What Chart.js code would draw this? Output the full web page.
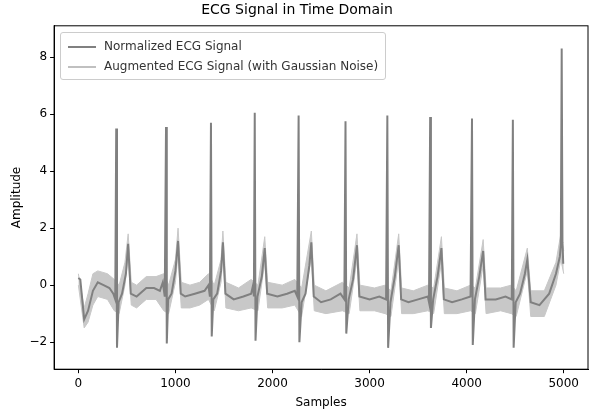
<!DOCTYPE html>
<html><head><meta charset="utf-8">
<script src="https://cdn.jsdelivr.net/npm/chart.js@4"></script>
<style>
body{margin:0;background:#fff;font-family:"DejaVu Sans",sans-serif}
#wrap{position:relative;width:591px;height:418px}
#legend{position:absolute;left:60px;top:32px;border:1px solid #ccc;border-radius:3px;background:rgba(255,255,255,0.85);padding:3px 7px;font-size:12px;color:#333;line-height:20px}
#legend span{display:inline-block;width:28px;height:2px;vertical-align:middle;margin-right:8px}
</style></head>
<body>
<div id="wrap"><canvas id="grafico" width="591" height="418"></canvas>
<div id="legend">
<div><span style="background:#808080"></span>Normalized ECG Signal</div>
<div><span style="background:#c0c0c0"></span>Augmented ECG Signal (with Gaussian Noise)</div>
</div></div>
<script>
// normalized signal breakpoints [sample, amplitude]
const normalized = [[0,0.25],[20,0.2],[60,-1.2],[100,-0.9],[150,-0.2],[200,0.1],[260,0.0],[320,-0.1],[360,-0.3],[380,-0.5],
[390,5.5],[398,-2.2],[415,-0.6],[450,-0.3],[490,0.4],[513,1.45],[540,-0.3],[600,-0.4],[700,-0.1],[780,-0.1],[840,-0.2],[870,0.1],[890,-0.4],
[903,5.55],[911,-2.05],[925,-0.5],[960,-0.3],[1000,0.5],[1027,1.55],[1055,-0.3],[1100,-0.4],[1200,-0.3],[1300,-0.2],[1340,0.0],[1355,-0.4],
[1366,5.7],[1374,-1.8],[1390,-0.5],[1430,-0.3],[1470,0.5],[1489,1.5],[1515,-0.3],[1600,-0.5],[1700,-0.4],[1780,-0.3],[1800,0.0],[1808,-0.4],
[1817,6.05],[1825,-1.95],[1845,-0.4],[1890,0.3],[1920,1.3],[1945,-0.3],[2050,-0.4],[2150,-0.3],[2230,-0.2],[2255,-0.4],
[2269,5.95],[2277,-2.0],[2300,-0.6],[2340,-0.3],[2380,0.7],[2400,1.5],[2425,-0.4],[2500,-0.6],[2600,-0.5],[2700,-0.3],[2740,-0.5],
[2752,5.75],[2760,-1.7],[2785,-0.5],[2830,0.2],[2870,1.4],[2895,-0.4],[3000,-0.5],[3100,-0.4],[3170,-0.5],
[3183,5.95],[3191,-2.2],[3215,-0.6],[3260,0.3],[3300,1.4],[3325,-0.5],[3400,-0.6],[3500,-0.5],[3600,-0.4],[3612,-0.6],
[3624,5.9],[3632,-1.5],[3655,-0.5],[3700,0.3],[3740,1.3],[3765,-0.5],[3850,-0.6],[3950,-0.5],[4040,-0.4],
[4055,5.85],[4063,-2.1],[4085,-0.5],[4130,0.3],[4170,1.2],[4195,-0.5],[4300,-0.5],[4400,-0.4],[4465,-0.5],
[4476,5.8],[4484,-2.2],[4505,-0.6],[4550,-0.3],[4600,0.4],[4625,0.9],[4660,-0.6],[4750,-0.7],[4850,-0.3],[4920,0.4],[4960,1.0],[4970,1.4],
[4979,8.3],[4987,1.5],[4995,0.75]];

// noise band of the augmented signal
const augmentedUpper = [[0,0.4],[60,-0.8],[100,-0.3],[150,0.4],[200,0.5],[300,0.4],[370,0.2],[420,0.0],[480,0.8],[513,1.8],[545,0.1],[600,0.0],[700,0.3],[800,0.3],[880,0.4],[930,0.0],[1000,0.9],[1027,2.0],[1060,0.1],[1150,0.0],[1250,0.1],[1340,0.4],[1400,0.0],[1470,0.9],[1489,1.9],[1520,0.1],[1650,-0.1],[1780,0.2],[1850,0.0],[1920,1.7],[1950,0.1],[2100,0.0],[2230,0.2],[2300,-0.1],[2400,1.9],[2430,0.0],[2550,-0.2],[2720,0.1],[2790,-0.1],[2870,1.8],[2900,0.0],[3050,-0.1],[3160,0.0],[3220,-0.2],[3300,1.8],[3330,-0.1],[3450,-0.2],[3600,0.0],[3660,-0.1],[3740,1.7],[3770,-0.1],[3900,-0.2],[4040,0.0],[4090,-0.1],[4170,1.6],[4200,-0.1],[4350,-0.1],[4460,0.0],[4510,-0.2],[4625,1.3],[4660,-0.2],[4800,-0.2],[4920,0.8],[4970,1.8],[5000,1.2]];
const augmentedLower = [[0,0.0],[60,-1.5],[100,-1.3],[150,-0.7],[200,-0.4],[300,-0.5],[370,-0.9],[420,-1.0],[480,0.0],[513,1.0],[545,-0.7],[600,-0.8],[700,-0.5],[800,-0.5],[880,-0.9],[930,-1.0],[1000,0.1],[1027,1.1],[1060,-0.8],[1150,-0.8],[1250,-0.7],[1340,-0.5],[1400,-0.9],[1470,0.1],[1489,1.1],[1520,-0.8],[1650,-0.9],[1780,-0.8],[1850,-0.9],[1920,0.8],[1950,-0.8],[2100,-0.8],[2230,-0.7],[2300,-1.1],[2400,1.0],[2430,-0.9],[2550,-1.0],[2720,-0.9],[2790,-1.0],[2870,0.9],[2900,-0.9],[3050,-0.9],[3160,-1.0],[3220,-1.1],[3300,0.9],[3330,-1.0],[3450,-1.0],[3600,-0.9],[3660,-1.0],[3740,0.8],[3770,-1.0],[3900,-1.0],[4040,-0.9],[4090,-1.0],[4170,0.7],[4200,-1.0],[4350,-0.9],[4460,-1.0],[4510,-1.1],[4625,0.5],[4660,-1.1],[4800,-1.1],[4920,0.0],[4970,0.9],[5000,0.4]];

const xTicks = [0,1000,2000,3000,4000,5000];
const yTicks = [-2,0,2,4,6,8];

const pts = a => a.map(p => ({x:p[0], y:p[1]}));
const font = {family:'DejaVu Sans', size:12};
const minus = v => String(v).replace('-', '\u2212');

new Chart(document.getElementById('grafico'), {
  type: 'line',
  data: {
    datasets: [
      {data: pts(normalized), borderColor:'#808080', borderWidth:2, pointRadius:0, order:0},
      {data: pts(augmentedUpper), borderColor:'#c8c8c8', borderWidth:1, pointRadius:0, fill:false, order:1},
      {data: pts(augmentedLower), borderColor:'#c8c8c8', borderWidth:1, pointRadius:0, fill:'-1', backgroundColor:'#c8c8c8', order:1}
    ]
  },
  options: {
    responsive:false, animation:false,
    layout:{padding:{left:6, right:3, bottom:4}},
    plugins:{
      legend:{display:false}, tooltip:{enabled:false},
      title:{display:true, text:'ECG Signal in Time Domain', color:'#000', font:{family:'DejaVu Sans', size:14, weight:'normal'}, padding:{top:2,bottom:7}}
    },
    scales:{
      x:{type:'linear', min:-250, max:5250,
        grid:{drawOnChartArea:false, color:'#000', tickLength:4},
        border:{color:'#000'},
        afterBuildTicks: s => { s.ticks = xTicks.map(v => ({value:v})); },
        ticks:{color:'#000', font, maxRotation:0, callback:v => String(v)},
        title:{display:true, text:'Samples', color:'#000', font, padding:{top:2}}},
      y:{min:-2.95, max:9.1,
        grid:{drawOnChartArea:false, color:'#000', tickLength:4},
        border:{color:'#000'},
        afterBuildTicks: s => { s.ticks = yTicks.map(v => ({value:v})); },
        ticks:{color:'#000', font, callback:minus},
        title:{display:true, text:'Amplitude', color:'#000', font, padding:{bottom:2}}}
    }
  },
  plugins:[{id:'frame', afterDraw(c){const a=c.chartArea,g=c.ctx;g.save();g.strokeStyle='#000';g.lineWidth=1;g.strokeRect(a.left,a.top,a.right-a.left,a.bottom-a.top);g.restore();}}]
});
</script>
</body></html>
